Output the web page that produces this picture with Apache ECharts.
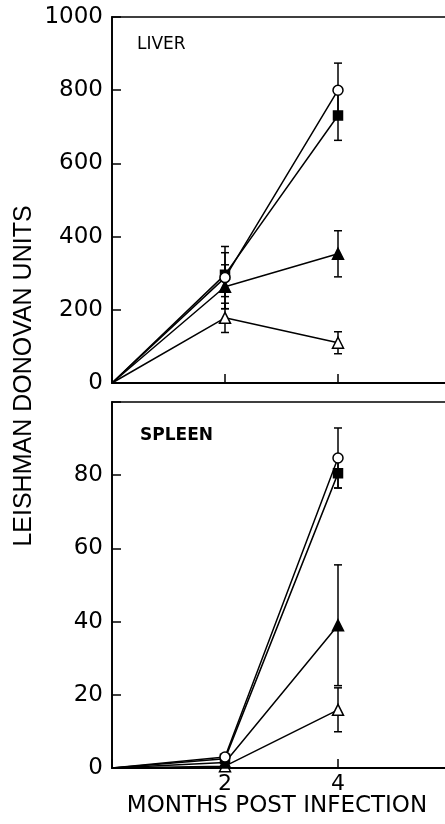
<!DOCTYPE html>
<html>
<head>
<meta charset="utf-8">
<script src="https://cdn.jsdelivr.net/npm/echarts@6/dist/echarts.min.js"></script>
<style>html,body{margin:0;padding:0;background:#fff}#c{width:445px;height:824px}</style>
</head>
<body>
<div id="c"></div>
<script>
// ---- data ----
var months = [0, 2, 4];
var xTickLabels = ['2', '4'];
var liverTicks = [0, 200, 400, 600, 800, 1000];
var spleenTicks = [0, 20, 40, 60, 80];

var liverOpenCircle = [0, 288, 800];
var liverOpenCircleErr = [0, 85, 74];
var liverFilledSquare = [0, 296, 731];
var liverFilledSquareErr = [0, 60, 68];
var liverFilledTriangle = [0, 263, 353];
var liverFilledTriangleErr = [0, 60, 63];
var liverOpenTriangle = [0, 178, 110];
var liverOpenTriangleErr = [0, 40, 30];

var spleenOpenCircle = [0, 3, 84.7];
var spleenOpenCircleErr = [0, 0, 8.2];
var spleenFilledSquare = [0, 2.5, 80.5];
var spleenFilledSquareErr = [0, 0, 4];
var spleenFilledTriangle = [0, 1.5, 39];
var spleenFilledTriangleErr = [0, 0, 16.5];
var spleenOpenTriangle = [0, 0.5, 15.9];
var spleenOpenTriangleErr = [0, 0, 6];

var FONT = 'DejaVu Sans';
var chart = echarts.init(document.getElementById('c'));

function pts(vals) { return months.map(function (m, i) { return [m, vals[i]]; }); }

var markers = {
  openCircle: { symbol: 'circle', size: 10, fill: '#fff' },
  filledSquare: { symbol: 'rect', size: 9, fill: '#000' },
  filledTriangle: { symbol: 'triangle', size: 11, fill: '#000' },
  openTriangle: { symbol: 'triangle', size: 11, fill: '#fff' }
};

function lineSeries(vals, m, gi) {
  var mk = markers[m];
  return {
    type: 'line', xAxisIndex: gi, yAxisIndex: gi, data: pts(vals),
    symbol: mk.symbol,
    symbolSize: function (v) { return v[0] === 0 ? 0 : mk.size; },
    lineStyle: { color: '#000', width: 1.5 },
    itemStyle: { color: mk.fill, borderColor: '#000', borderWidth: 1.5 },
    z: 3, animation: false, silent: true
  };
}

function errSeries(vals, errs, gi) {
  var d = [];
  months.forEach(function (m, i) { if (errs[i] > 0) d.push([m, vals[i] - errs[i], vals[i] + errs[i]]); });
  return {
    type: 'custom', xAxisIndex: gi, yAxisIndex: gi, data: d, z: 2, animation: false, silent: true,
    renderItem: function (params, api) {
      var lo = api.coord([api.value(0), api.value(1)]);
      var hi = api.coord([api.value(0), api.value(2)]);
      var w = 4;
      var st = { stroke: '#000', lineWidth: 1.5 };
      return {
        type: 'group', children: [
          { type: 'line', shape: { x1: lo[0], y1: lo[1], x2: hi[0], y2: hi[1] }, style: st },
          { type: 'line', shape: { x1: lo[0] - w, y1: lo[1], x2: lo[0] + w, y2: lo[1] }, style: st },
          { type: 'line', shape: { x1: hi[0] - w, y1: hi[1], x2: hi[0] + w, y2: hi[1] }, style: st }
        ]
      };
    },
    encode: { x: 0, y: [1, 2] }
  };
}

function xAxis(gi, showLabels) {
  return {
    type: 'value', gridIndex: gi, min: 0, max: 6, interval: 2,
    axisLine: { show: true, lineStyle: { color: '#000', width: 1.8 } },
    axisTick: { show: true, inside: true, length: 9, lineStyle: { color: '#000', width: 1.5 } },
    axisLabel: {
      show: showLabels, color: '#000', fontFamily: FONT, fontSize: 22, margin: 5,
      formatter: function (v) { return xTickLabels.indexOf(String(v)) >= 0 ? String(v) : ''; }
    },
    splitLine: { show: false }
  };
}

function yAxis(gi, max, interval, ticks) {
  return {
    type: 'value', gridIndex: gi, min: 0, max: max, interval: interval,
    axisLine: { show: true, lineStyle: { color: '#000', width: 1.8 } },
    axisTick: { show: true, inside: true, length: 9, lineStyle: { color: '#000', width: 1.5 } },
    axisLabel: {
      color: '#000', fontFamily: FONT, fontSize: 23, margin: 9,
      formatter: function (v) { return ticks.indexOf(v) >= 0 ? String(v) : ''; }
    },
    splitLine: { show: false }
  };
}

var option = {
  backgroundColor: '#fff',
  animation: false,
  grid: [
    { left: 112, top: 17, width: 339, height: 366, outerBoundsMode: 'none', containLabel: false, show: true, borderColor: '#000', borderWidth: 1.5, backgroundColor: 'transparent' },
    { left: 112, top: 402, width: 339, height: 366, outerBoundsMode: 'none', containLabel: false, show: true, borderColor: '#000', borderWidth: 1.5, backgroundColor: 'transparent' }
  ],
  xAxis: [xAxis(0, false), xAxis(1, true)],
  yAxis: [yAxis(0, 1000, 200, liverTicks), yAxis(1, 100, 20, spleenTicks)],
  graphic: [
    { type: 'text', left: 137, top: 36, style: { text: 'LIVER', fontFamily: FONT, fontSize: 17, fill: '#000' } },
    { type: 'text', left: 140, top: 427, style: { text: 'SPLEEN', fontFamily: FONT, fontSize: 17, fontWeight: 'bold', fill: '#000' } },
    { type: 'text', x: 277, y: 795,
      style: { text: 'MONTHS POST INFECTION', fontFamily: FONT, fontSize: 23, fill: '#000', align: 'center', verticalAlign: 'top' } },
    { type: 'text', x: 24, y: 376, rotation: Math.PI / 2,
      style: { text: 'LEISHMAN DONOVAN UNITS', fontFamily: 'Liberation Sans', fontSize: 25, fill: '#000', align: 'center', verticalAlign: 'middle' } }
  ],
  series: [
    errSeries(liverOpenCircle, liverOpenCircleErr, 0),
    errSeries(liverFilledSquare, liverFilledSquareErr, 0),
    errSeries(liverFilledTriangle, liverFilledTriangleErr, 0),
    errSeries(liverOpenTriangle, liverOpenTriangleErr, 0),
    lineSeries(liverOpenTriangle, 'openTriangle', 0),
    lineSeries(liverFilledTriangle, 'filledTriangle', 0),
    lineSeries(liverFilledSquare, 'filledSquare', 0),
    lineSeries(liverOpenCircle, 'openCircle', 0),
    errSeries(spleenOpenCircle, spleenOpenCircleErr, 1),
    errSeries(spleenFilledSquare, spleenFilledSquareErr, 1),
    errSeries(spleenFilledTriangle, spleenFilledTriangleErr, 1),
    errSeries(spleenOpenTriangle, spleenOpenTriangleErr, 1),
    lineSeries(spleenOpenTriangle, 'openTriangle', 1),
    lineSeries(spleenFilledTriangle, 'filledTriangle', 1),
    lineSeries(spleenFilledSquare, 'filledSquare', 1),
    lineSeries(spleenOpenCircle, 'openCircle', 1)
  ]
};
chart.setOption(option);
</script>
</body>
</html>
